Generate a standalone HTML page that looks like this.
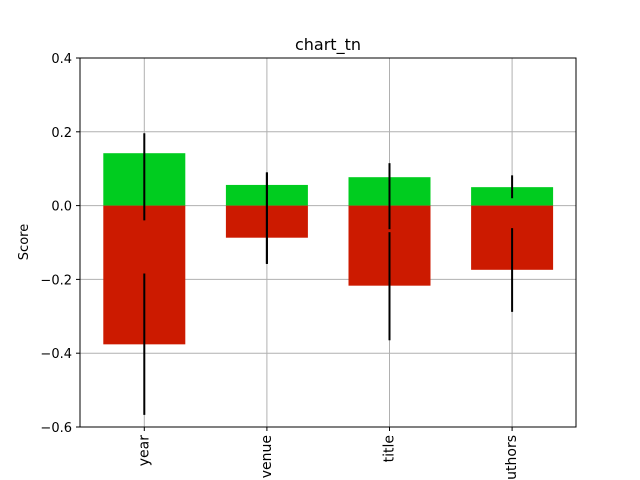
<!DOCTYPE html>
<html><head><meta charset="utf-8"><style>body{margin:0;background:#fff}svg{display:block;font-family:"DejaVu Sans","Liberation Sans",sans-serif}</style></head>
<body>
<svg id="chart" width="640" height="480" viewBox="0 0 640 480" xmlns="http://www.w3.org/2000/svg">
<rect width="640" height="480" fill="#fff"/>
<text x="328" y="50" text-anchor="middle" font-size="16">chart_tn</text>
<text transform="translate(28,242) rotate(-90)" text-anchor="middle" font-size="13">Score</text>
<g id="grid"></g><g id="bars"></g><g id="errs"></g><g id="ticks"></g>
<rect x="80" y="58" width="496" height="369" fill="none" stroke="#000" stroke-width="1"/>
</svg>
<script>
const categories = ["year","venue","title","authors"];
const posValues = [0.142, 0.056, 0.077, 0.050];
const negValues = [-0.376, -0.087, -0.217, -0.174];
const posErrHigh = [0.196, 0.090, 0.115, 0.082];
const posErrLow = [-0.040, -0.158, -0.064, 0.020];
const negErrHigh = [-0.184, 0.090, -0.072, -0.061];
const negErrLow = [-0.567, -0.158, -0.365, -0.288];
const yTicks = [0.4, 0.2, 0.0, -0.2, -0.4, -0.6];
const yTickLabels = ["0.4","0.2","0.0","\u22120.2","\u22120.4","\u22120.6"];

const NS="http://www.w3.org/2000/svg";
const y = v => 205.6 - v*369;
const x = i => 144.3 + i*122.6;
const bw = 82;
function mk(tag, attrs, parent){const e=document.createElementNS(NS,tag);for(const k in attrs)e.setAttribute(k,attrs[k]);document.getElementById(parent).appendChild(e);return e;}
yTicks.forEach((t,i)=>{
  const g=mk('line',{x1:80,x2:576,y1:y(t),y2:y(t),stroke:'#b0b0b0','stroke-width':1},'grid');
  
  
  const tk=mk('line',{x1:76,x2:80,y1:y(t),y2:y(t),stroke:'#000'},'ticks');
  
  
  const tl=mk('text',{x:72,y:y(t)+5,'text-anchor':'end','font-size':13},'ticks');
  tl.textContent=yTickLabels[i];
  
  
});
categories.forEach((c,i)=>{
  const cx=x(i);
  const g=mk('line',{x1:cx,x2:cx,y1:58,y2:427,stroke:'#b0b0b0','stroke-width':1},'grid');
  
  
  const pb=mk('rect',{x:cx-bw/2,y:y(posValues[i]),width:bw,height:y(0)-y(posValues[i]),fill:'#00cc1f'},'bars');
  
  
  const nb=mk('rect',{x:cx-bw/2,y:y(0),width:bw,height:y(negValues[i])-y(0),fill:'#cc1a00'},'bars');
  
  
  const e1=mk('line',{x1:cx,x2:cx,y1:y(posErrHigh[i]),y2:y(posErrLow[i]),stroke:'#000','stroke-width':2},'errs');
  
  
  const e2=mk('line',{x1:cx,x2:cx,y1:y(negErrHigh[i]),y2:y(negErrLow[i]),stroke:'#000','stroke-width':2},'errs');
  
  
  const tk=mk('line',{x1:cx,x2:cx,y1:427,y2:431,stroke:'#000'},'ticks');
  
  
  const tl=mk('text',{transform:`translate(${cx+4},435) rotate(-90)`,'text-anchor':'end','font-size':14},'ticks');
  tl.textContent=c;
  
  
});
</script>
</body></html>
